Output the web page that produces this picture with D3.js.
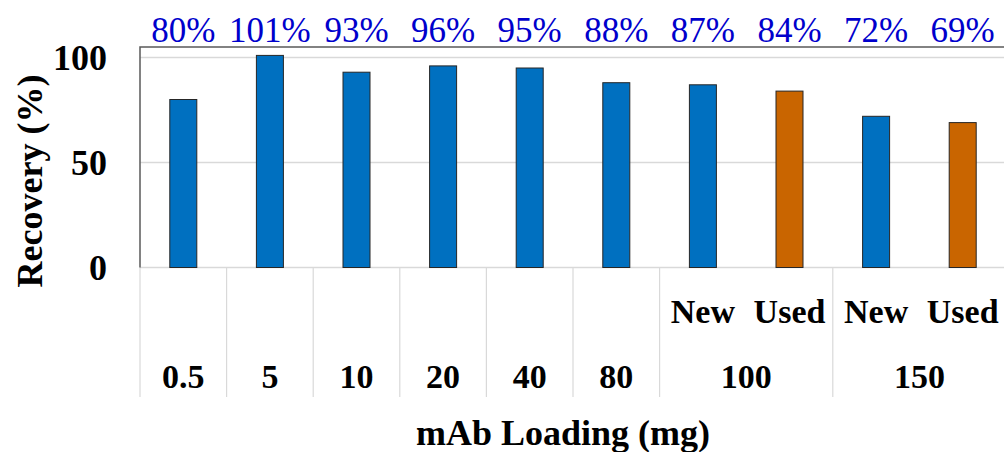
<!DOCTYPE html>
<html><head><meta charset="utf-8">
<script src="https://cdn.jsdelivr.net/npm/d3@7"></script>
<style>body{margin:0;background:#fff;} svg{display:block;} text{font-family:"Liberation Serif","Times New Roman",Times,"DejaVu Serif",serif;}</style>
</head><body>
<script>
const categories = ["0.5","5","10","20","40","80","100 New","100 Used","150 New","150 Used"];
const values = [80, 101, 93, 96, 95, 88, 87, 84, 72, 69];
const barType = ["new","new","new","new","new","new","new","used","new","used"];
const dataLabels = ["80%","101%","93%","96%","95%","88%","87%","84%","72%","69%"];
const subLabels = ["","","","","","","New","Used","New","Used"];
const groups = [
  {label:"0.5", from:0, to:0},{label:"5", from:1, to:1},{label:"10", from:2, to:2},
  {label:"20", from:3, to:3},{label:"40", from:4, to:4},{label:"80", from:5, to:5},
  {label:"100", from:6, to:7},{label:"150", from:8, to:9}
];
const yTicks = [0, 50, 100];
const colors = {new:"#0070C0", used:"#C96500"};

(function(){
const W = 1004, H = 452;
const svg = d3.select("body").append("svg").attr("width", W).attr("height", H);
const pLeft = 140, pRight = 1006, pTop = 47, zeroY = 267.5;
const x = d3.scaleBand().domain(categories).range([pLeft, pRight]).paddingInner(0).paddingOuter(0);
const y = d3.scaleLinear().domain([0, 105]).range([zeroY, pTop]);

svg.append("g").selectAll("line").data(yTicks.filter(d=>d>0)).join("line")
  .attr("x1", pLeft).attr("x2", pRight).attr("y1", d=>y(d)).attr("y2", d=>y(d))
  .attr("stroke", "#d9d9d9").attr("stroke-width", 1.5);

const bottomY = 397;
const sepIdx = [];
groups.forEach(g => sepIdx.push(g.from));
sepIdx.push(categories.length);
svg.append("g").selectAll("line").data(sepIdx).join("line")
  .attr("x1", d => d < categories.length ? x(categories[d]) : pRight)
  .attr("x2", d => d < categories.length ? x(categories[d]) : pRight)
  .attr("y1", zeroY).attr("y2", bottomY)
  .attr("stroke", "#d9d9d9").attr("stroke-width", 1.2);

svg.append("line").attr("x1", pLeft).attr("x2", pRight).attr("y1", zeroY).attr("y2", zeroY)
  .attr("stroke", "#d9d9d9").attr("stroke-width", 1.5);

svg.append("path").attr("d", `M${pLeft},${zeroY}V${pTop}H${pRight}`)
  .attr("fill","none").attr("stroke","#595959").attr("stroke-width",1.5);

const bw = 27;
svg.append("g").selectAll("rect").data(categories).join("rect")
  .attr("x", (d)=> x(d) + x.bandwidth()/2 - bw/2)
  .attr("width", bw)
  .attr("y", (d,i)=> y(values[i]))
  .attr("height", (d,i)=> zeroY - y(values[i]))
  .attr("fill", (d,i)=> colors[barType[i]])
  .attr("stroke", "#262626").attr("stroke-width", 1);

svg.append("g").selectAll("text").data(categories).join("text")
  .attr("x", d => x(d) + x.bandwidth()/2).attr("y", 42)
  .attr("text-anchor","middle").attr("font-size", 35)
  .attr("fill", "#0000CC").text((d,i)=>dataLabels[i]);

svg.append("g").selectAll("text").data(yTicks).join("text")
  .attr("x", 107).attr("y", d => y(d)).attr("dy", "0.35em")
  .attr("text-anchor","end").attr("font-size", 36)
  .attr("font-weight","bold").attr("fill","#000").text(d=>d);

svg.append("g").selectAll("text").data(categories).join("text")
  .attr("x", d => x(d) + x.bandwidth()/2).attr("y", 323)
  .attr("text-anchor","middle").attr("font-size", 34)
  .attr("font-weight","bold").attr("fill","#000").text((d,i)=>subLabels[i]);

svg.append("g").selectAll("text").data(groups).join("text")
  .attr("x", g => (x(categories[g.from]) + x(categories[g.to]) + x.bandwidth())/2)
  .attr("y", 388)
  .attr("text-anchor","middle").attr("font-size", 34)
  .attr("font-weight","bold").attr("fill","#000").text(g=>g.label);

svg.append("text").attr("x", 563).attr("y", 445).attr("text-anchor","middle")
  .attr("font-size", 36).attr("font-weight","bold").text("mAb Loading (mg)");
svg.append("text").attr("transform","translate(42,181) rotate(-90)").attr("text-anchor","middle")
  .attr("font-size", 36).attr("font-weight","bold").text("Recovery (%)");
})();
</script>
</body></html>
